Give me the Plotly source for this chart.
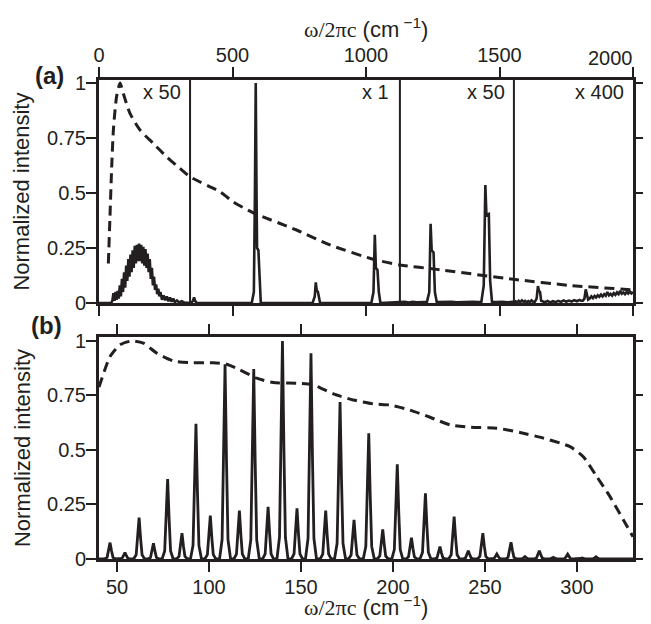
import plotly.graph_objects as go

# ---------------- data ----------------
# Panel (a): measured spectrum (segments scaled x50, x1, x50, x400)
spec_a_x = [0, 45, 50, 54, 58, 62, 66, 70, 74, 78, 82, 86, 90, 94, 98, 102, 106, 110, 114, 118,
            122, 126, 130, 134, 138, 142, 146, 150, 154, 158, 162, 166, 170, 174, 178, 182, 186,
            190, 194, 198, 202, 206, 210, 214, 218, 222, 226, 230, 236, 242, 248, 254, 260, 266,
            272, 278, 284, 292, 300, 310, 320, 335, 345, 352, 356, 360, 366,
            572, 580, 584, 587, 590, 592, 597, 601, 606,
            800, 808, 812, 815, 820, 824, 828,
            1020, 1028, 1033, 1037, 1043, 1048, 1054,
            1130, 1145, 1160, 1175, 1190, 1205, 1220, 1228, 1237, 1242, 1246, 1253, 1258, 1265,
            1280, 1300, 1320, 1340, 1360, 1380, 1400, 1420, 1432, 1441, 1447, 1451, 1460, 1465,
            1472, 1490, 1510, 1530, 1548,
            1554, 1560, 1566, 1572, 1578, 1584, 1590, 1596, 1602, 1608, 1614, 1620, 1626, 1632,
            1639, 1644, 1648, 1652, 1656, 1662, 1670, 1680, 1690, 1700, 1710, 1720, 1730, 1740,
            1750, 1760, 1770, 1780, 1790, 1800, 1806, 1812, 1818, 1823, 1827, 1832, 1838, 1844,
            1850, 1856, 1862, 1868, 1874, 1880, 1886, 1892, 1898, 1904, 1910, 1916, 1922, 1928,
            1934, 1940, 1946, 1952, 1958, 1964, 1970, 1976, 1982, 1988, 1994, 2000]
spec_a_y = [0, 0, 0.01, 0.045, 0.01, 0.05, 0.015, 0.055, 0.02, 0.08, 0.03, 0.11, 0.05, 0.14, 0.07,
            0.17, 0.1, 0.2, 0.12, 0.22, 0.14, 0.24, 0.16, 0.26, 0.18, 0.265, 0.19, 0.27, 0.19,
            0.265, 0.18, 0.255, 0.17, 0.245, 0.16, 0.225, 0.14, 0.2, 0.11, 0.16, 0.08, 0.12, 0.06,
            0.085, 0.04, 0.065, 0.03, 0.05, 0.015, 0.035, 0.012, 0.03, 0.008, 0.025, 0.006, 0.02,
            0.004, 0.012, 0.003, 0.008, 0.002, 0, 0, 0.01, 0.025, 0.01, 0,
            0, 0.05, 0.5, 1.0, 0.5, 0.25, 0.24, 0.1, 0,
            0, 0.03, 0.094, 0.06, 0.05, 0.02, 0,
            0, 0.05, 0.31, 0.16, 0.15, 0.05, 0,
            0.003, 0.005, 0.002, 0.006, 0.003, 0.005, 0.004, 0.004, 0.05, 0.36, 0.24, 0.23,
            0.05, 0.004,
            0.005, 0.003, 0.006, 0.003, 0.005, 0.004, 0.006, 0.004, 0.005, 0.08, 0.536, 0.40,
            0.405, 0.1, 0.005, 0.004, 0.006, 0.003, 0.005,
            0.002, 0.008, 0.003, 0.01, 0.004, 0.012, 0.005, 0.01, 0.003, 0.009, 0.004, 0.012,
            0.006, 0.005, 0.02, 0.077, 0.055, 0.05, 0.01, 0.008, 0.004, 0.009, 0.003, 0.008,
            0.004, 0.01, 0.005, 0.012, 0.006, 0.011, 0.007, 0.013, 0.008, 0.014, 0.01, 0.01,
            0.02, 0.062, 0.04, 0.015, 0.02, 0.03, 0.022, 0.032, 0.025, 0.035, 0.028, 0.038,
            0.03, 0.04, 0.033, 0.05, 0.035, 0.042, 0.034, 0.045, 0.037, 0.048, 0.04, 0.055,
            0.042, 0.048, 0.04, 0.05, 0.043, 0.052, 0.044, 0.05]

# Panel (a): dashed reference curve
dash_a_x = [35, 41, 47, 54, 66, 79, 91, 116, 154, 203, 253, 303, 341, 453, 503, 578, 740, 865,
            1027, 1127, 1265, 1552, 1764, 2000]
dash_a_y = [0.18, 0.39, 0.60, 0.79, 0.94, 1.0, 0.953, 0.862, 0.786, 0.726, 0.665, 0.612, 0.574,
            0.506, 0.46, 0.41, 0.332, 0.264, 0.199, 0.173, 0.153, 0.108, 0.08, 0.06]

# Panel (a): segment boundaries and scale factors
seg_bounds = [341, 1127, 1554]
seg_labels = ["x 50", "x 1", "x 50", "x 400"]
seg_label_x = [341, 1127, 1554, 2000]

# Panel (b): peak positions and heights
peaks_b_pos = [46.2, 54.3, 62.0, 69.8, 77.5, 85.3, 92.9, 100.7, 108.7, 116.5, 124.3, 132.1,
               139.9, 147.8, 155.4, 163.4, 171.2, 178.8, 186.8, 194.4, 202.3, 210.0, 217.6,
               225.5, 233.2, 240.9, 248.8, 256.4, 264.1, 271.7, 279.5, 287.1, 294.9, 302.7,
               310.3, 318.0, 326.0]
peaks_b_h = [0.075, 0.03, 0.19, 0.072, 0.367, 0.118, 0.62, 0.199, 0.893, 0.222, 0.871, 0.239,
             1.0, 0.232, 0.943, 0.222, 0.72, 0.179, 0.577, 0.136, 0.434, 0.098, 0.301, 0.057,
             0.194, 0.038, 0.118, 0.023, 0.077, 0.011, 0.038, 0.008, 0.022, 0.005, 0.01,
             0.003, 0.003]

# Panel (b): dashed reference curve
dash_b_x = [40.2, 46.2, 51.6, 58, 64.3, 71.6, 80.6, 89.7, 102.3, 109.6, 116.8, 125.9, 134.9,
            147.7, 156.7, 167.6, 178.4, 189.3, 198.4, 209.2, 220.1, 231, 241.8, 256.4, 269,
            281.7, 296.2, 303.4, 310.7, 317.9, 325.2, 330.4]
dash_b_y = [0.788, 0.928, 0.982, 1.0, 0.99, 0.944, 0.908, 0.90, 0.90, 0.893, 0.867, 0.829,
            0.809, 0.806, 0.798, 0.757, 0.729, 0.711, 0.706, 0.683, 0.65, 0.615, 0.604, 0.6,
            0.58, 0.554, 0.515, 0.469, 0.378, 0.286, 0.179, 0.102]

y_tickvals = [0, 0.25, 0.5, 0.75, 1]
y_ticktext = ["0", "0.25", "0.5", "0.75", "1"]
xa_tickvals = [0, 500, 1000, 1500, 2000]
xa_ticktext = ["0", "500", "1000", "1500", ""]   # last label drawn separately (kept inside)
xa_last_label = "2000"
xb_tickvals = [50, 100, 150, 200, 250, 300]

# ---------------- build panel (b) line from peak list ----------------
prof_dx = [-3.0, -1.6, -0.8, 0, 0.8, 1.6, 3.0]      # line-shape template (style)
prof_rel = [0, 0.1, 0.5, 1, 0.5, 0.1, 0]
spec_b_x, spec_b_y = [40.2], [0]
for c, h in zip(peaks_b_pos, peaks_b_h):
    for dx, r in zip(prof_dx, prof_rel):
        spec_b_x.append(c + dx)
        spec_b_y.append(h * r)
spec_b_x.append(330.4)
spec_b_y.append(0)

# ---------------- figure ----------------
FONT = "Liberation Sans, Arial, sans-serif"
fig = go.Figure()
line_col = "#231f20"

fig.add_trace(go.Scatter(x=dash_a_x, y=dash_a_y, mode="lines", xaxis="x", yaxis="y",
                         line=dict(color=line_col, width=3, dash="10px,6px", shape="spline", smoothing=0.6),
                         showlegend=False, hoverinfo="skip"))
fig.add_trace(go.Scatter(x=spec_a_x, y=spec_a_y, mode="lines", xaxis="x", yaxis="y",
                         line=dict(color=line_col, width=2.6), showlegend=False))
fig.add_trace(go.Scatter(x=dash_b_x, y=dash_b_y, mode="lines", xaxis="x2", yaxis="y2",
                         line=dict(color=line_col, width=3, dash="10px,6px", shape="spline", smoothing=0.6),
                         showlegend=False, hoverinfo="skip"))
fig.add_trace(go.Scatter(x=spec_b_x, y=spec_b_y, mode="lines", xaxis="x2", yaxis="y2",
                         line=dict(color=line_col, width=2.8), showlegend=False))

for xb in seg_bounds:
    fig.add_shape(type="line", xref="x", yref="y domain", x0=xb, x1=xb, y0=0, y1=1,
                  line=dict(color=line_col, width=2))

for lbl, xl in zip(seg_labels, seg_label_x):
    fig.add_annotation(x=xl, y=0.96, xref="x", yref="y", text=lbl, showarrow=False,
                       xanchor="right", yanchor="middle", xshift=-7 if lbl != "x 1" else -9,
                       font=dict(family=FONT, size=20, color=line_col))

title_txt = ("<span style=\"font-family:'Liberation Serif', serif\">ω/2πc</span>"
             " (cm<sup> −1</sup>)")

common_axis = dict(showline=True, linecolor=line_col, linewidth=3, mirror="ticks",
                   ticks="outside", ticklen=10, tickwidth=2, tickcolor=line_col,
                   showgrid=False, zeroline=False, automargin=False,
                   tickfont=dict(family=FONT, size=20, color=line_col))

# The page body adds an 8 px offset, so the figure is 8 px smaller and shifted.
fig.update_layout(
    width=643, height=616, autosize=False,
    margin=dict(l=91, r=18, t=72, b=65),
    paper_bgcolor="white", plot_bgcolor="white",
    font=dict(family=FONT, color=line_col),
    xaxis=dict(**common_axis, anchor="y", domain=[0, 1], side="top", range=[0, 2000],
               tickvals=xa_tickvals, ticktext=xa_ticktext, ticklabelstandoff=-3),
    yaxis=dict(**common_axis, anchor="x", domain=[0.5344, 1], range=[0, 1.014],
               tickvals=y_tickvals, ticktext=y_ticktext, ticklabelstandoff=-4),
    xaxis2=dict(**common_axis, anchor="y2", domain=[0, 1], range=[40.2, 330.4],
                tickvals=xb_tickvals, ticklabelstandoff=-2),
    yaxis2=dict(**common_axis, anchor="x2", domain=[0, 0.4635], range=[0, 1.018],
                tickvals=y_tickvals, ticktext=y_ticktext, ticklabelstandoff=-4),
)

# last top tick label, right-aligned on its tick so it stays inside the figure
fig.add_annotation(x=xa_tickvals[-1], y=1.0459, xref="x", yref="paper", text=xa_last_label,
                   showarrow=False, xanchor="right", yanchor="middle", xshift=2,
                   font=dict(family=FONT, size=20, color=line_col))

# axis titles as annotations (paper coordinates)
title_font = dict(family=FONT, size=22, color=line_col)
fig.add_annotation(x=0.5, y=1.1086, xref="paper", yref="paper", text=title_txt,
                   showarrow=False, xanchor="center", yanchor="middle", font=title_font)
fig.add_annotation(x=0.5, y=-0.0981, xref="paper", yref="paper", text=title_txt,
                   showarrow=False, xanchor="center", yanchor="middle", font=title_font)
fig.add_annotation(x=-0.1442, y=0.767, xref="paper", yref="paper", text="Normalized intensity",
                   showarrow=False, xanchor="center", yanchor="middle", textangle=-90, font=title_font)
fig.add_annotation(x=-0.1442, y=0.2317, xref="paper", yref="paper", text="Normalized intensity",
                   showarrow=False, xanchor="center", yanchor="middle", textangle=-90, font=title_font)

fig.add_annotation(x=-0.0936, y=1.0084, xref="paper", yref="paper", text="<b>(a)</b>",
                   showarrow=False, xanchor="center", yanchor="middle",
                   font=dict(family=FONT, size=24, color=line_col))
fig.add_annotation(x=-0.0974, y=0.4885, xref="paper", yref="paper", text="<b>(b)</b>",
                   showarrow=False, xanchor="center", yanchor="middle",
                   font=dict(family=FONT, size=24, color=line_col))

fig.write_html("out.html")
